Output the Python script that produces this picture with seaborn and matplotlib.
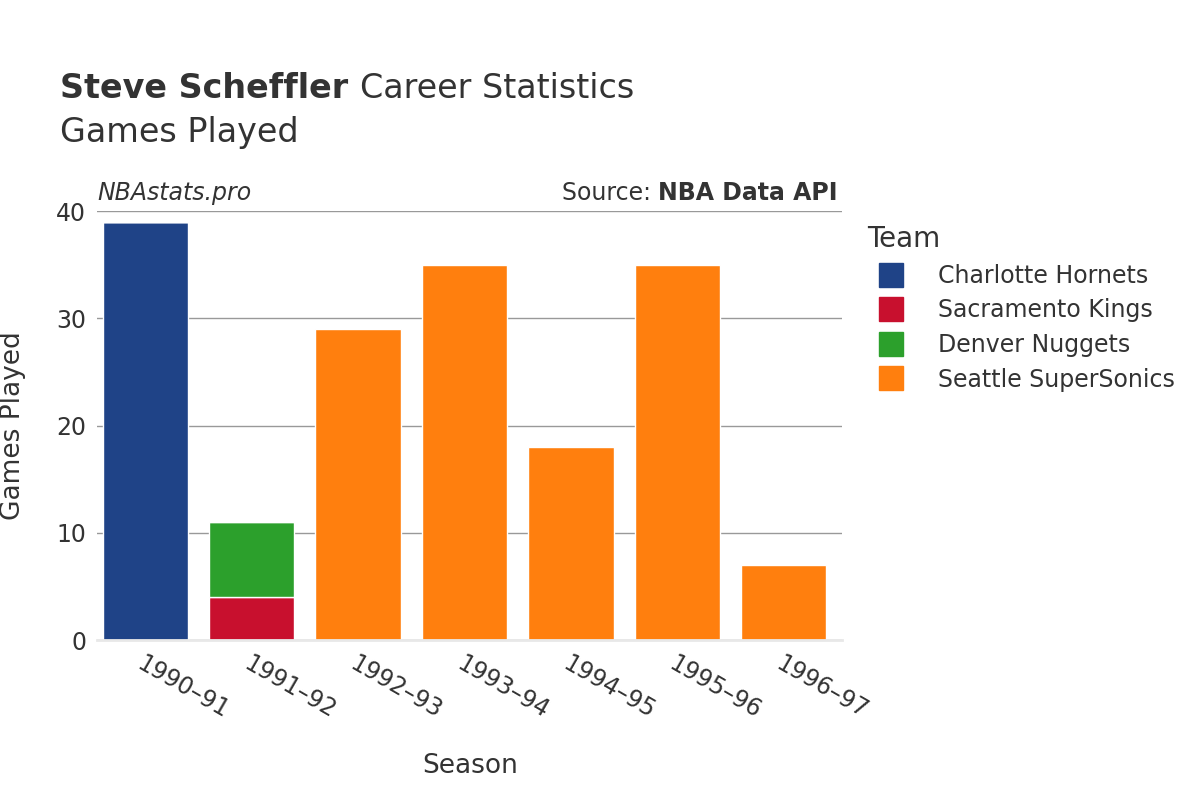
import matplotlib
matplotlib.use("Agg")
import matplotlib.pyplot as plt
import seaborn as sns
import pandas as pd
import numpy as np
from matplotlib.lines import Line2D

seasons = ["1990–91", "1991–92", "1992–93", "1993–94", "1994–95", "1995–96", "1996–97"]
teams = ["Charlotte Hornets", "Sacramento Kings", "Denver Nuggets", "Seattle SuperSonics"]
colors = ["#1f4387", "#c8102e", "#2ca02c", "#ff7f0e"]
charlotte = [39, 0, 0, 0, 0, 0, 0]
sacramento = [0, 4, 0, 0, 0, 0, 0]
denver = [0, 7, 0, 0, 0, 0, 0]
seattle = [0, 0, 29, 35, 18, 35, 7]
values = [charlotte, sacramento, denver, seattle]

plt.rcParams["font.family"] = "DejaVu Sans"
fig = plt.figure(figsize=(12, 8), dpi=100)
ax = fig.add_axes([0.081, 0.2, 0.621, 0.536])

bottom = np.zeros(len(seasons))
for team, vals, c in zip(teams, values, colors):
    df = pd.DataFrame({"Season": seasons, "Games": vals})
    sns.barplot(data=df, x="Season", y="Games", order=seasons, color=c,
                bottom=bottom.copy(), width=0.8, ax=ax, edgecolor="white",
                linewidth=1, saturation=1, errorbar=None)
    bottom += np.array(vals)

ax.set_ylim(0, 40)
ax.set_xlim(-0.45, 6.55)
ax.set_yticks([0, 10, 20, 30, 40])
ax.yaxis.grid(True, color="#999999", linewidth=1)
ax.set_axisbelow(True)
for s in ["top", "right", "left"]:
    ax.spines[s].set_visible(False)
ax.spines["bottom"].set_color("#e8e8e8")
ax.spines["bottom"].set_linewidth(2)
ax.tick_params(axis="both", length=0, labelsize=17, colors="#333333", pad=8)
plt.setp(ax.get_xticklabels(), rotation=-30, ha="left", rotation_mode="anchor")
ax.set_xlabel("Season", fontsize=19, color="#333333", labelpad=22)
ax.set_ylabel("Games Played", fontsize=19, color="#333333", labelpad=22)

fig.text(0.05, 0.878, "Steve Scheffler", fontsize=24, fontweight="bold", color="#333333")
fig.text(0.30, 0.878, "Career Statistics", fontsize=24, color="#333333")
fig.text(0.05, 0.822, "Games Played", fontsize=24, color="#333333")
fig.text(0.081, 0.75, "NBAstats.pro", fontsize=17, style="italic", color="#333333")
bold = fig.text(0.698, 0.75, "NBA Data API", fontsize=17, fontweight="bold", color="#333333", ha="right")
fig.canvas.draw()
bb = bold.get_window_extent(fig.canvas.get_renderer())
fig.text(bb.x0 / fig.bbox.width, 0.75, "Source: ", fontsize=17, color="#333333", ha="right")

handles = [Line2D([0], [0], marker="s", linestyle="", markersize=17, markerfacecolor=c,
                  markeredgecolor=c) for c in colors]
leg = fig.legend(handles, teams, loc="upper left", bbox_to_anchor=(0.705, 0.745), frameon=False,
                 title="Team", fontsize=17, title_fontsize=20, labelcolor="#333333",
                 handletextpad=1.0, labelspacing=0.45)
leg._legend_box.align = "left"
leg.get_title().set_color("#333333")
fig.savefig("out.png")
